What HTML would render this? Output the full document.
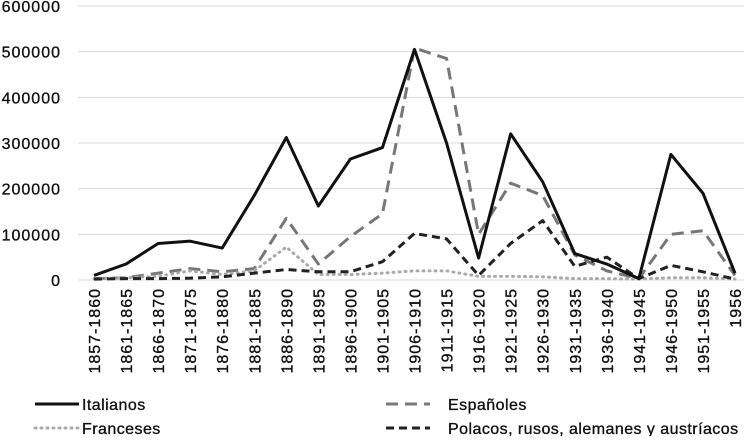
<!DOCTYPE html>
<html><head><meta charset="utf-8"><style>
body{margin:0;background:#fff;width:744px;height:436px;overflow:hidden;font-family:"Liberation Sans",sans-serif}
text{font-family:"Liberation Sans",sans-serif;font-size:16px;letter-spacing:1px;fill:#111;stroke:#111;stroke-width:0.35px}
text.lg{letter-spacing:0.45px}
</style></head><body>
<svg id="c" width="744" height="436"></svg>
<script>
const categories=["1857-1860","1861-1865","1866-1870","1871-1875","1876-1880","1881-1885","1886-1890","1891-1895","1896-1900","1901-1905","1906-1910","1911-1915","1916-1920","1921-1925","1926-1930","1931-1935","1936-1940","1941-1945","1946-1950","1951-1955","1956"];
const italianos=[10000,35000,80000,85000,70000,185000,312000,162000,265000,290000,505000,300000,48000,320000,215000,58000,35000,3000,275000,190000,15000];
const espanoles=[3000,5000,15000,25000,18000,25000,135000,35000,95000,145000,508000,485000,100000,212000,185000,55000,20000,3000,100000,108000,10000];
const franceses=[3000,5000,8000,20000,12000,20000,72000,12000,12000,15000,20000,20000,8000,8000,7000,3000,3000,2000,5000,5000,2000];
const polacos=[2000,3000,3000,4000,7000,15000,23000,18000,18000,40000,102000,90000,10000,80000,130000,30000,50000,3000,32000,18000,2000];
const yTicks=[0,100000,200000,300000,400000,500000,600000];
const NS="http://www.w3.org/2000/svg",svg=document.getElementById('c');
const x=i=>94+i*32.05, y=v=>280-v*(274/600000);
function mk(t,a){const e=document.createElementNS(NS,t);for(const k in a)e.setAttribute(k,a[k]);svg.appendChild(e);return e;}
yTicks.forEach(v=>{
 const g=mk('line',{x1:78,x2:744,y1:y(v),y2:y(v),stroke:'#d9d9d9','stroke-width':1});
 
 
 const t=mk('text',{x:61,y:y(v)+6,'text-anchor':'end'});t.textContent=v;
 
 
});
categories.forEach((c,i)=>{
 const t=mk('text',{transform:`translate(${x(i)+6},288) rotate(-90)`,'text-anchor':'end'});t.textContent=c;
 
 
});
const series=[
 [espanoles,'#777','3','12 7','line-espanoles'],
 [franceses,'#aaa','3','1 5','line-franceses'],
 [polacos,'#222','3','8 5','line-polacos'],
 [italianos,'#111','3','','line-italianos']];
series.forEach(s=>{
 const p=mk('polyline',{points:s[0].map((v,i)=>x(i)+','+y(v)).join(' '),fill:'none',stroke:s[1],'stroke-width':s[2],'stroke-dasharray':s[3],'stroke-linecap':s[3]=='1 5'?'round':'butt','stroke-linejoin':'round'});
 
 
});
const leg=[['Italianos','#111','',35,404],['Españoles','#777','12 7',386,404],['Franceses','#aaa','1 5',35,428],['Polacos, rusos, alemanes y austríacos','#222','8 5',386,428]];
leg.forEach(l=>{
 const ln=mk('line',{x1:l[3],x2:l[3]+44,y1:l[4],y2:l[4],stroke:l[1],'stroke-width':3,'stroke-dasharray':l[2],'stroke-linecap':l[2]=='1 5'?'round':'butt'});
 
 
 const t=mk('text',{x:l[3]+(l[3]>100?62:47),y:l[4]+6,'class':'lg'});t.textContent=l[0];
 
 
});
</script>
</body></html>
